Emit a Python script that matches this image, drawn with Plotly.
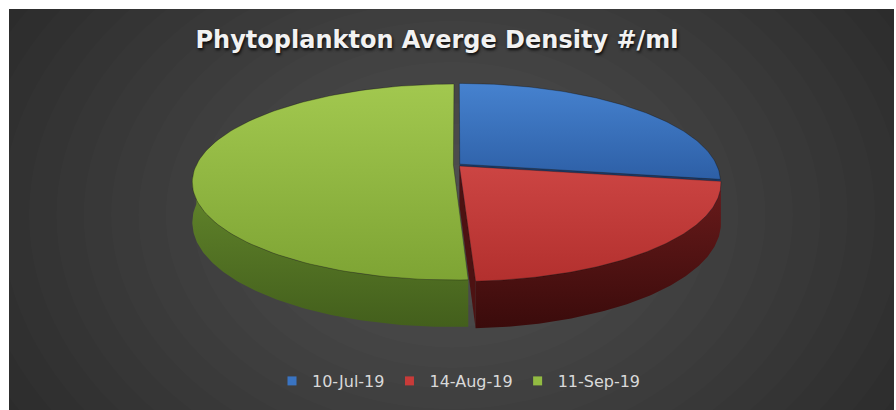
import numpy as np
import plotly.graph_objects as go

# ---------------- data ----------------
categories = ["10-Jul-19", "14-Aug-19", "11-Sep-19"]
avg_density = [27.5, 21.7, 50.8]          # share of average density (#/ml)
title_text = "Phytoplankton Averge Density #/ml"

# ---------------- styles ----------------
# (top colour, bottom colour)
top_grad = [("#4682cf", "#2d5fa6"), ("#cc4543", "#b3302e"), ("#a2c84f", "#7ea434")]
side_grad = [("#23457a", "#142a4c"), ("#6a1b1b", "#3a0b0b"), ("#668a2d", "#435f1c")]
wall_col = ["#1c3a66", "#4d1212", "#4b6a20"]
legend_col = ["#3a74c2", "#c83b39", "#92bb42"]

W, H = 896, 410
CX, CY = 457.0, 165.0       # projected pie centre
RX, RY = 257.0, 95.0        # pie radii on screen
PERSP = 0.1735              # perspective strength
DEPTH = 47 * (1 - PERSP)    # thickness of the pie
EXPL = 0.014                # slice explosion (fraction of radius)
CAM = -1.0 / PERSP          # camera position in disc plane


def proj(X, Z, h):
    s = 1.0 / (1.0 + PERSP * Z)
    return CX + RX * X * s, CY - RY * Z * s + DEPTH * s * h


vals = np.array(avg_density, dtype=float)
ends = np.cumsum(vals) / vals.sum() * 360.0
starts = np.concatenate([[0.0], ends[:-1]])

walls, sides, tops = [], [], []
for i, (t1, t2) in enumerate(zip(starts, ends)):
    phi = np.radians((t1 + t2) / 2)
    ox, oz = EXPL * np.sin(phi), EXPL * np.cos(phi)
    th = np.radians(np.linspace(t1, t2, 120))
    ax_, az_ = ox + np.sin(th), oz + np.cos(th)
    # top face
    xa, ya = proj(ax_, az_, 0)
    xc, yc = proj(ox, oz, 0)
    tops.append((i, np.r_[xc, xa, xc], np.r_[yc, ya, yc]))
    # outer side (front half)
    lo, hi = max(t1, 90.0), min(t2, 270.0)
    if hi > lo:
        ts = np.radians(np.linspace(lo, hi, 120))
        sx, sz = ox + np.sin(ts), oz + np.cos(ts)
        x0, y0 = proj(sx, sz, 0)
        x1, y1 = proj(sx, sz, 1)
        sides.append((i, np.r_[x0, x1[::-1], x0[0]], np.r_[y0, y1[::-1], y0[0]]))
    # radial walls
    for tb, sign in ((t1, -1), (t2, 1)):
        r = np.radians(tb)
        nx, nz = sign * np.cos(r), -sign * np.sin(r)
        mx, mz = ox + 0.5 * np.sin(r), oz + 0.5 * np.cos(r)
        if nx * (0 - mx) + nz * (CAM - mz) > 0:
            ex, ez = ox + np.sin(r), oz + np.cos(r)
            p = [proj(ox, oz, 0), proj(ex, ez, 0), proj(ex, ez, 1), proj(ox, oz, 1), proj(ox, oz, 0)]
            walls.append((i, [q[0] for q in p], [q[1] for q in p]))


def grad(pair):
    # gradient scale runs bottom -> top on screen
    return dict(type="vertical", colorscale=[[0, pair[1]], [1, pair[0]]])


fig = go.Figure()
for i, xs, ys in walls:
    fig.add_trace(go.Scatter(x=xs, y=ys, fill="toself", mode="lines", line=dict(width=0),
                             fillcolor=wall_col[i], showlegend=False, hoverinfo="skip"))
for i, xs, ys in sides:
    fig.add_trace(go.Scatter(x=xs, y=ys, fill="toself", mode="lines", line=dict(width=0),
                             fillgradient=grad(side_grad[i]), showlegend=False, hoverinfo="skip"))
for i, xs, ys in tops:
    fig.add_trace(go.Scatter(x=xs, y=ys, fill="toself", mode="lines",
                             line=dict(width=0.8, color="rgba(0,0,0,0.35)"),
                             fillgradient=grad(top_grad[i]),
                             showlegend=False, name=categories[i],
                             hovertemplate=f"{categories[i]}: {avg_density[i]}<extra></extra>"))
for i, c in enumerate(categories):
    fig.add_trace(go.Scatter(x=[None], y=[None], mode="markers", name=c,
                             marker=dict(symbol="square", size=9, color=legend_col[i])))

# background: dark panel with radial glow
shapes = [dict(type="rect", xref="x", yref="y", x0=9, x1=894, y0=9, y1=H,
               fillcolor="#282828", line=dict(width=0), layer="below")]
gcx, gcy = 452, 215
for rx in np.linspace(560, 40, 20):
    ry = rx * 0.75
    shapes.append(dict(type="circle", xref="x", yref="y", x0=gcx - rx, x1=gcx + rx,
                       y0=gcy - ry, y1=gcy + ry, fillcolor="white", opacity=0.013,
                       line=dict(width=0), layer="below"))
# keep the glow inside the panel
shapes += [
    dict(type="rect", xref="x", yref="y", x0=-200, x1=9, y0=-200, y1=H + 200, fillcolor="white", line=dict(width=0), layer="below"),
    dict(type="rect", xref="x", yref="y", x0=894, x1=W + 200, y0=-200, y1=H + 200, fillcolor="white", line=dict(width=0), layer="below"),
    dict(type="rect", xref="x", yref="y", x0=-200, x1=W + 200, y0=-200, y1=9, fillcolor="white", line=dict(width=0), layer="below"),
]

fig.update_layout(
    width=W, height=H,
    margin=dict(l=0, r=0, t=0, b=0),
    paper_bgcolor="white", plot_bgcolor="rgba(0,0,0,0)",
    xaxis=dict(range=[0, W], visible=False, fixedrange=True, domain=[0, 1]),
    yaxis=dict(range=[H, 0], visible=False, fixedrange=True, domain=[0, 1]),
    shapes=shapes,
    title=dict(text=title_text, x=437 / W, y=1 - 40 / H, xanchor="center", yanchor="middle",
               font=dict(family="DejaVu Sans", size=24, color="#f2f2f2", weight="bold",
                         shadow="1px 2px 3px rgba(0,0,0,0.85)")),
    legend=dict(orientation="h", x=459 / W, xanchor="center", y=1 - 381 / H, yanchor="middle",
                bgcolor="rgba(0,0,0,0)", font=dict(family="DejaVu Sans", size=16, color="#d9d9d9"),
                itemclick=False, itemdoubleclick=False),
    showlegend=True,
)

fig.write_html("out.html", config={"displayModeBar": False},
               post_script="document.body.style.margin='0';document.body.style.overflow='hidden';")
